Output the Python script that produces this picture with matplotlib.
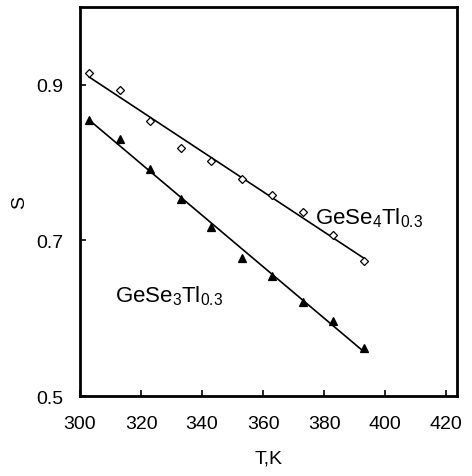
import matplotlib
matplotlib.use("Agg")
import matplotlib.pyplot as plt
import numpy as np

plt.rcParams['font.family'] = ['Liberation Sans', 'DejaVu Sans']
plt.rcParams['mathtext.fontset'] = 'custom'
plt.rcParams['mathtext.rm'] = 'Liberation Sans'
plt.rcParams['mathtext.it'] = 'Liberation Sans'

# temperatures, K
T = [303, 313, 323, 333, 343, 353, 363, 373, 383, 393]
# S for the two glasses
S_gese4 = [0.915, 0.893, 0.853, 0.819, 0.802, 0.779, 0.759, 0.736, 0.707, 0.673]
S_gese3 = [0.855, 0.830, 0.792, 0.753, 0.717, 0.678, 0.654, 0.621, 0.597, 0.562]

x_ticks = [300, 320, 340, 360, 380, 400, 420]
y_ticks = [0.5, 0.7, 0.9]

fig = plt.figure(figsize=(4.72, 4.77), dpi=100)
ax = fig.add_axes([0.1695, 0.1677, 0.7985, 0.8155])

t = np.array(T)
for s, mk, fill in [(S_gese4, 'D', 'white'), (S_gese3, '^', 'black')]:
    k, b = np.polyfit(t, s, 1)   # straight-line fit through points
    ax.plot(t, k * t + b, color='black', lw=1.2)
    ax.plot(t, s, linestyle='none', marker=mk, ms=4.3 if mk == 'D' else 6,
            mfc=fill, mec='black', mew=0.9)

ax.text(377, 0.722, r'GeSe$_4$Tl$_{0.3}$', fontsize=16, va='baseline')
ax.text(311.5, 0.622, r'GeSe$_3$Tl$_{0.3}$', fontsize=16, va='baseline')

ax.set_xlim(300, 423.5)
ax.set_ylim(0.5, 1.0)
ax.set_xticks(x_ticks)
ax.set_yticks(y_ticks)
ax.set_yticklabels(['0.5', '0.7', '0.9'])
ax.tick_params(direction='in', length=4, width=1.2, labelsize=14,
               top=False, right=False)
ax.tick_params(axis='x', pad=14)
ax.tick_params(axis='y', pad=12)
for sp in ax.spines.values():
    sp.set_linewidth(2)

ax.set_xlabel('T,K', fontsize=14, labelpad=12)
ax.set_ylabel('S', fontsize=14, labelpad=6)

fig.savefig('out.png', dpi=100)
